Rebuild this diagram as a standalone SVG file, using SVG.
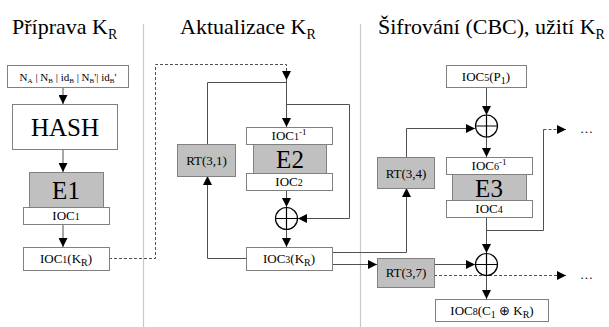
<svg xmlns="http://www.w3.org/2000/svg" width="609" height="327" viewBox="0 0 609 327">
<defs>
<marker id="ar" viewBox="0 0 10 10" refX="10" refY="5" markerWidth="9" markerHeight="9" markerUnits="userSpaceOnUse" orient="auto"><path d="M0,0 L10,5 L0,10 z" fill="#000"/></marker>
<style>
.w{fill:#fff;stroke:#808080;stroke-width:1}
.g{fill:#c0c0c0;stroke:#808080;stroke-width:1}
.c{fill:none;stroke:#505050;stroke-width:1}
.d{fill:none;stroke:#505050;stroke-width:1;stroke-dasharray:3,2}
.x{fill:#fff;stroke:#000;stroke-width:1.2}
.div{stroke:#c8c8c8;stroke-width:1.2}
</style>
</defs>
<rect width="609" height="327" fill="#fff"/>
<g id="titles" font-family="Times New Roman">
<text font-family="Times New Roman" font-size="22" x="12" y="34">Příprava K<tspan font-size="14" dy="5">R</tspan></text>
<text font-family="Times New Roman" font-size="22" x="180" y="34">Aktualizace K<tspan font-size="14" dy="5">R</tspan></text>
<text font-family="Times New Roman" font-size="22" x="378" y="34">Šifrování (CBC), užití K<tspan font-size="14" dy="5">R</tspan></text>
<line class="div" x1="143.5" y1="24" x2="143.5" y2="327"/>
<line class="div" x1="360.5" y1="24" x2="360.5" y2="327"/>
</g>
<g id="connectors">
<path class="c" d="M63,88 V104" marker-end="url(#ar)"/>
<path class="c" d="M63,150 V172" marker-end="url(#ar)"/>
<path class="c" d="M63,224 V247" marker-end="url(#ar)"/>
<path class="d" d="M109,258.5 H155.5 V64.5 H286.5 V80" marker-end="url(#ar)"/>
<path class="c" d="M207.5,144 V82.5 H286.5"/>
<path class="c" d="M286.5,80 V127" marker-end="url(#ar)"/>
<path class="c" d="M286.5,104.5 H349.5 V218.5 H298" marker-end="url(#ar)"/>
<path class="c" d="M286.5,190 V207" marker-end="url(#ar)"/>
<path class="c" d="M286.5,229 V247" marker-end="url(#ar)"/>
<path class="c" d="M246,258.5 H207.5 V176" marker-end="url(#ar)"/>
<path class="c" d="M332,252.5 H406.5 V188" marker-end="url(#ar)"/>
<path class="c" d="M332,264.5 H377" marker-end="url(#ar)"/>
<path class="c" d="M406.5,157 V128.5 H475" marker-end="url(#ar)"/>
<path class="c" d="M486.5,87 V115" marker-end="url(#ar)"/>
<path class="c" d="M486.5,137 V157" marker-end="url(#ar)"/>
<path class="c" d="M486.5,218 V253" marker-end="url(#ar)"/>
<path class="c" d="M486.5,230.5 H543.5 V129.5"/>
<path class="d" d="M543.5,129.5 H566" marker-end="url(#ar)"/>
<path class="c" d="M434,264.5 H475" marker-end="url(#ar)"/>
<path class="c" d="M486.5,275 V299" marker-end="url(#ar)"/>
<path class="d" d="M434,275.5 H566" marker-end="url(#ar)"/>
<text font-family="Times New Roman" x="580" y="133" font-size="13">…</text>
<text font-family="Times New Roman" x="580" y="279" font-size="13">…</text>
</g>
<g id="n-input">
<rect class="w" x="7.5" y="65.5" width="121" height="22"/>
<text font-family="Times New Roman" x="68" y="81" font-size="11" text-anchor="middle">N<tspan font-size="7" dy="2">A</tspan><tspan dy="-2"> | N</tspan><tspan font-size="7" dy="2">B</tspan><tspan dy="-2"> | id</tspan><tspan font-size="7" dy="2">B</tspan><tspan dy="-2"> | N</tspan><tspan font-size="7" dy="2">B</tspan><tspan dy="-2">'| id</tspan><tspan font-size="7" dy="2">B</tspan><tspan dy="-2">'</tspan></text>
</g>
<g id="n-hash">
<rect class="w" x="12.5" y="104.5" width="105" height="45"/>
<text font-family="Times New Roman" font-size="25" text-anchor="middle" x="65" y="136">HASH</text>
</g>
<g id="n-e1">
<rect class="g" x="29.5" y="172.5" width="74" height="35"/>
<text font-family="Times New Roman" font-size="25" text-anchor="middle" x="66" y="199">E1</text>
<rect class="w" x="23.5" y="207.5" width="86" height="17"/>
<text font-family="Times New Roman" font-size="13" text-anchor="middle" x="66" y="220">IOC<tspan font-size="10">1</tspan></text>
</g>
<g id="n-ioc1kr">
<rect class="w" x="23.5" y="247.5" width="86" height="23"/>
<text font-family="Times New Roman" font-size="13" text-anchor="middle" x="66" y="263">IOC<tspan font-size="10">1</tspan>(K<tspan font-size="10" dy="3">R</tspan><tspan dy="-3">)</tspan></text>
</g>
<g id="n-rt31">
<rect class="g" x="177.5" y="144.5" width="58" height="32"/>
<text font-family="Times New Roman" font-size="13" text-anchor="middle" x="206.5" y="165">RT(3,1)</text>
</g>
<g id="n-e2">
<rect class="w" x="246.5" y="127.5" width="86" height="17"/>
<text font-family="Times New Roman" font-size="13" text-anchor="middle" x="289" y="140">IOC<tspan font-size="10">1</tspan><tspan font-size="9" dy="-5">-1</tspan></text>
<rect class="g" x="253.5" y="144.5" width="73" height="29"/>
<text font-family="Times New Roman" font-size="25" text-anchor="middle" x="290" y="168">E2</text>
<rect class="w" x="246.5" y="173.5" width="86" height="17"/>
<text font-family="Times New Roman" font-size="13" text-anchor="middle" x="289" y="186">IOC<tspan font-size="10">2</tspan></text>
</g>
<g id="n-xor1">
<circle class="x" cx="286.5" cy="218.5" r="11"/>
<path d="M275.5,218.5 H297.5 M286.5,207.5 V229.5" stroke="#000" stroke-width="1.2"/>
</g>
<g id="n-ioc3kr">
<rect class="w" x="246.5" y="247.5" width="86" height="23"/>
<text font-family="Times New Roman" font-size="13" text-anchor="middle" x="289" y="263">IOC<tspan font-size="10">3</tspan>(K<tspan font-size="10" dy="3">R</tspan><tspan dy="-3">)</tspan></text>
</g>
<g id="n-ioc5">
<rect class="w" x="446.5" y="65.5" width="80" height="22"/>
<text font-family="Times New Roman" font-size="13" text-anchor="middle" x="486" y="81">IOC<tspan font-size="10">5</tspan>(P<tspan font-size="10" dy="3">1</tspan><tspan dy="-3">)</tspan></text>
</g>
<g id="n-xor2">
<circle class="x" cx="486.5" cy="126" r="11"/>
<path d="M475.5,126 H497.5 M486.5,115 V137" stroke="#000" stroke-width="1.2"/>
</g>
<g id="n-rt34">
<rect class="g" x="377.5" y="157.5" width="57" height="31"/>
<text font-family="Times New Roman" font-size="13" text-anchor="middle" x="406" y="178">RT(3,4)</text>
</g>
<g id="n-e3">
<rect class="w" x="446.5" y="157.5" width="86" height="17"/>
<text font-family="Times New Roman" font-size="13" text-anchor="middle" x="489" y="170">IOC<tspan font-size="10">6</tspan><tspan font-size="9" dy="-5">-1</tspan></text>
<rect class="g" x="452.5" y="174.5" width="74" height="26"/>
<text font-family="Times New Roman" font-size="25" text-anchor="middle" x="489" y="197">E3</text>
<rect class="w" x="446.5" y="200.5" width="86" height="17"/>
<text font-family="Times New Roman" font-size="13" text-anchor="middle" x="489" y="213">IOC<tspan font-size="10">4</tspan></text>
</g>
<g id="n-rt37">
<rect class="g" x="377.5" y="258.5" width="57" height="29"/>
<text font-family="Times New Roman" font-size="13" text-anchor="middle" x="406" y="277">RT(3,7)</text>
</g>
<g id="n-xor3">
<circle class="x" cx="486.5" cy="264.5" r="11"/>
<path d="M475.5,264.5 H497.5 M486.5,253.5 V275.5" stroke="#000" stroke-width="1.2"/>
</g>
<g id="n-ioc8">
<rect class="w" x="435.5" y="299.5" width="113" height="22"/>
<text font-family="Times New Roman" font-size="13" text-anchor="middle" x="492" y="315">IOC<tspan font-size="10">8</tspan>(C<tspan font-size="10" dy="3">1</tspan><tspan dy="-3"> ⊕ K</tspan><tspan font-size="10" dy="3">R</tspan><tspan dy="-3">)</tspan></text>
</g>
</svg>
